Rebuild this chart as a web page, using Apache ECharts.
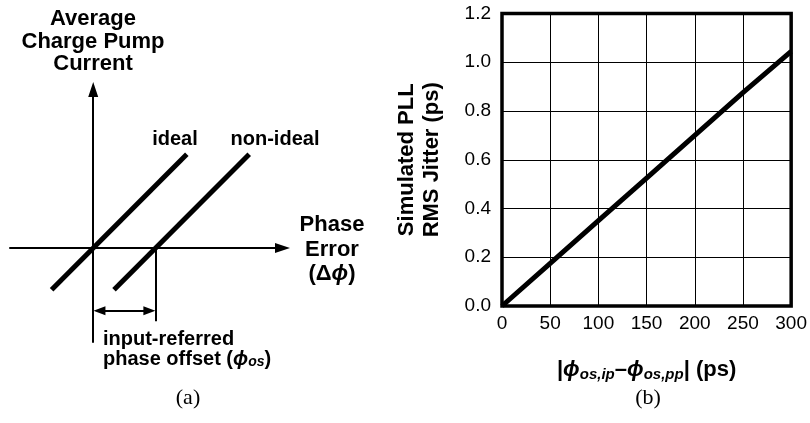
<!DOCTYPE html>
<html><head><meta charset="utf-8">
<script src="https://cdn.jsdelivr.net/npm/echarts@6/dist/echarts.min.js"></script>
<style>html,body{margin:0;padding:0;background:#fff}#c{width:810px;height:423px}</style>
</head><body><div id="c"></div>
<script>
// Panel (b) data
const offsetPs = [0, 50, 100, 150, 200, 250, 300];
const jitterPs = [0, 0.175, 0.35, 0.525, 0.70, 0.875, 1.045];
const xTicksB = [0, 50, 100, 150, 200, 250, 300];
const yTicksB = [0.0, 0.2, 0.4, 0.6, 0.8, 1.0, 1.2];
// Panel (a) schematic data (arbitrary units)
const idealX = [-2, 4.5];
const idealY = [-2, 4.5];
const nonIdealX = [1, 7.5];
const nonIdealY = [-2, 4.5];
const phaseOffset = 3;
const offsetTickBottom = -3.5;
const offsetArrowY = -3;
const axisRangeAX = [-4, 9.1];
const axisRangeAY = [-4.5, 7.6];

const F = '"Liberation Sans", Arial, sans-serif';
const chart = echarts.init(document.getElementById('c'), null, {renderer: 'canvas'});
const pad = 0.3;
const subRich = {
  n: {fontFamily: F, fontWeight: 'bold', fontSize: 22, lineHeight: 24, color: '#000'},
  p: {fontFamily: F, fontWeight: 'bold', fontStyle: 'italic', fontSize: 22, lineHeight: 24, color: '#000'},
  s: {fontFamily: F, fontWeight: 'bold', fontStyle: 'italic', fontSize: 15, lineHeight: 13, verticalAlign: 'bottom', color: '#000'}
};
const subRichA = {
  n: {fontFamily: F, fontWeight: 'bold', fontSize: 20, lineHeight: 20, color: '#000'},
  p: {fontFamily: F, fontWeight: 'bold', fontStyle: 'italic', fontSize: 20, lineHeight: 20, color: '#000'},
  s: {fontFamily: F, fontWeight: 'bold', fontStyle: 'italic', fontSize: 14, lineHeight: 11, verticalAlign: 'bottom', color: '#000'}
};
const phaseRich = {
  n: {fontFamily: F, fontWeight: 'bold', fontSize: 22, lineHeight: 24.5, color: '#000'},
  p: {fontFamily: F, fontWeight: 'bold', fontStyle: 'italic', fontSize: 22, lineHeight: 24.5, color: '#000'}
};

chart.setOption({
  animation: false,
  grid: [
    {left: 10, top: 89.5, width: 272.5, height: 252.5, show: false},
    {left: 502, top: 13.5, width: 293, height: 292.5, show: true, borderColor: '#000', borderWidth: 3.5, backgroundColor: 'transparent'}
  ],
  xAxis: [
    {gridIndex: 0, type: 'value', min: axisRangeAX[0], max: axisRangeAX[1],
     axisLine: {show: true, onZero: true, symbol: ['none', 'triangle'], symbolSize: [10, 15], lineStyle: {color: '#000', width: 2}},
     axisTick: {show: false}, axisLabel: {show: false}, splitLine: {show: false}},
    {gridIndex: 1, type: 'value', min: xTicksB[0], max: xTicksB[xTicksB.length - 1], interval: xTicksB[1] - xTicksB[0],
     axisLine: {show: false}, axisTick: {show: false},
     axisLabel: {color: '#000', fontFamily: F, fontSize: 19, margin: 8},
     splitLine: {show: true, lineStyle: {color: '#000', width: 1}},
     name: '{n||}{p|ϕ}{s|os,ip}{n|–}{p|ϕ}{s|os,pp}{n|| (ps)}',
     nameLocation: 'middle', nameGap: 52,
     nameTextStyle: {rich: subRich, fontFamily: F, fontWeight: 'bold', fontSize: 22, color: '#000'}}
  ],
  yAxis: [
    {gridIndex: 0, type: 'value', min: axisRangeAY[0], max: axisRangeAY[1],
     axisLine: {show: true, onZero: true, symbol: ['none', 'triangle'], symbolSize: [10, 15], lineStyle: {color: '#000', width: 2}},
     axisTick: {show: false}, axisLabel: {show: false}, splitLine: {show: false}},
    {gridIndex: 1, type: 'value', min: yTicksB[0], max: yTicksB[yTicksB.length - 1], interval: yTicksB[1] - yTicksB[0],
     axisLine: {show: false}, axisTick: {show: false},
     axisLabel: {color: '#000', fontFamily: F, fontSize: 19, margin: 11, formatter: v => v.toFixed(1)},
     splitLine: {show: true, lineStyle: {color: '#000', width: 1}},
     name: 'Simulated PLL\nRMS Jitter (ps)', nameLocation: 'middle', nameGap: 58,
     nameTextStyle: {fontFamily: F, fontWeight: 'bold', fontSize: 22, lineHeight: 25, color: '#000'}}
  ],
  series: [
    {type: 'line', xAxisIndex: 0, yAxisIndex: 0, symbol: 'none',
     data: idealX.map((x, i) => [x, idealY[i]]),
     lineStyle: {color: '#000', width: 5},
     markLine: {silent: true, symbol: 'none', lineStyle: {type: 'solid', color: '#000', width: 2}, label: {show: false},
       data: [
         [{coord: [phaseOffset, 0], symbol: 'none'}, {coord: [phaseOffset, offsetTickBottom], symbol: 'none'}],
         [{coord: [pad, offsetArrowY], symbol: 'triangle', symbolSize: [9, 12]}, {coord: [phaseOffset - pad, offsetArrowY], symbol: 'triangle', symbolSize: [9, 12]}]
       ]}},
    {type: 'line', xAxisIndex: 0, yAxisIndex: 0, symbol: 'none',
     data: nonIdealX.map((x, i) => [x, nonIdealY[i]]),
     lineStyle: {color: '#000', width: 5}},
    {type: 'line', xAxisIndex: 1, yAxisIndex: 1, symbol: 'none',
     data: offsetPs.map((x, i) => [x, jitterPs[i]]),
     lineStyle: {color: '#000', width: 5}, z: 5}
  ],
  graphic: [
    {type: 'text', x: 93, y: 8, style: {text: 'Average\nCharge Pump\nCurrent', align: 'center', fontFamily: F, fontWeight: 'bold', fontSize: 22, lineHeight: 22.5, fill: '#000'}},
    {type: 'text', x: 175, y: 129, style: {text: 'ideal', align: 'center', fontFamily: F, fontWeight: 'bold', fontSize: 20, lineHeight: 20, fill: '#000'}},
    {type: 'text', x: 275, y: 129, style: {text: 'non-ideal', align: 'center', fontFamily: F, fontWeight: 'bold', fontSize: 20, lineHeight: 20, fill: '#000'}},
    {type: 'text', x: 332, y: 213, style: {text: '{n|Phase}\n{n|Error}\n{n|(Δ}{p|ϕ}{n|)}', align: 'center', rich: phaseRich, fontFamily: F, fontWeight: 'bold', fontSize: 22, fill: '#000'}},
    {type: 'text', x: 103, y: 329, style: {text: '{n|input-referred}\n{n|phase offset (}{p|ϕ}{s|os}{n|)}', rich: subRichA, fontFamily: F, fontWeight: 'bold', fontSize: 20, fill: '#000'}},
    {type: 'text', x: 188, y: 387, style: {text: '(a)', align: 'center', fontFamily: '"Liberation Serif", serif', fontSize: 22, fill: '#000'}},
    {type: 'text', x: 648, y: 387, style: {text: '(b)', align: 'center', fontFamily: '"Liberation Serif", serif', fontSize: 22, fill: '#000'}}
  ]
});
</script></body></html>
